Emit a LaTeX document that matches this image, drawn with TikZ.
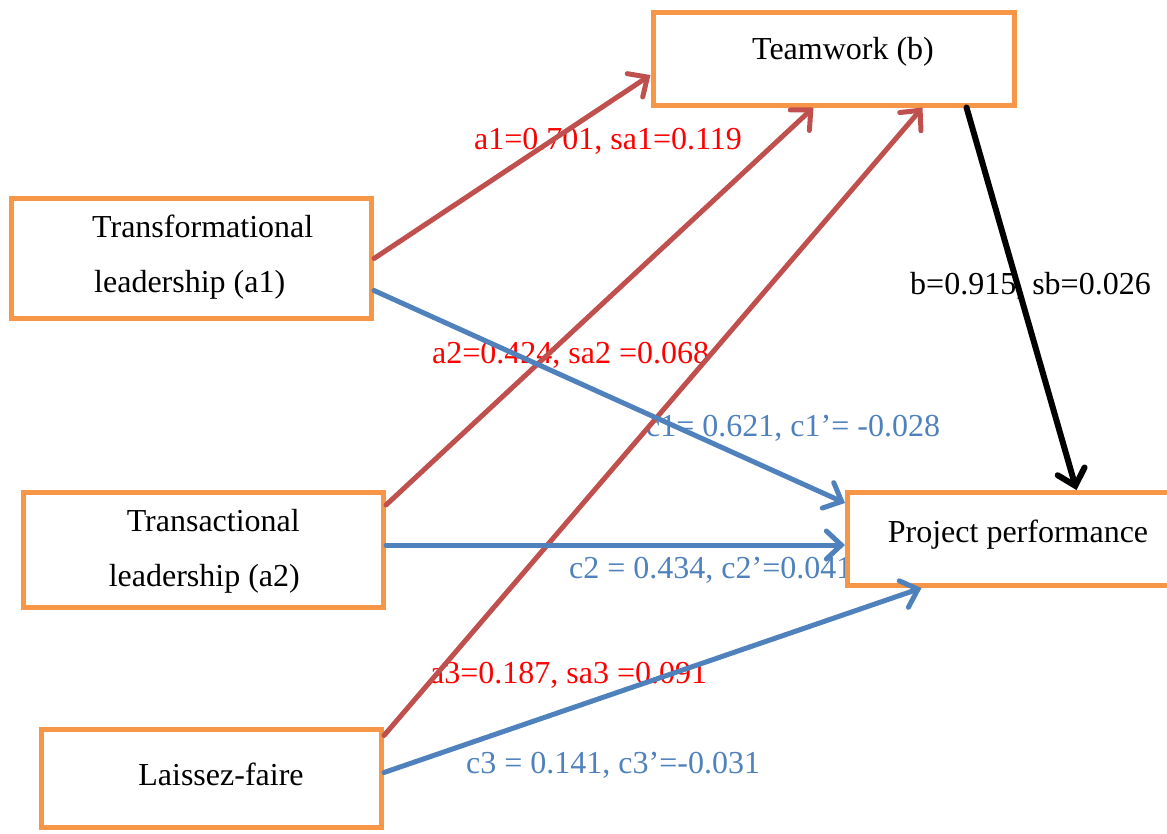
\documentclass[tikz,border=0pt]{standalone}
\usepackage{fontspec}
\setmainfont{Liberation Serif}
\usetikzlibrary{arrows.meta}
\definecolor{boxorange}{HTML}{F79646}
\definecolor{pathred}{HTML}{C0504D}
\definecolor{pathblue}{HTML}{4F81BD}
\definecolor{labred}{HTML}{FF0000}
\begin{document}
\begin{tikzpicture}[x=1pt,y=-1pt,
  box/.style={draw=boxorange, line width=5pt, fill=white, rectangle, inner sep=0pt},
  boxtext/.style={font=\fontsize{32pt}{55pt}\selectfont, inner sep=0pt},
  coef/.style={font=\fontsize{32pt}{38pt}\selectfont, inner sep=0pt,
               text height=21pt, text depth=0pt, anchor=west},
  redlab/.style={coef, text=labred},
  bluelab/.style={coef, text=pathblue},
  blacklab/.style={coef, text=black},
  link/.style={line width=5pt, line cap=round,
               -{Straight Barb[length=15pt,width=28pt,line cap=round]}},
  redlink/.style={link, draw=pathred},
  bluelink/.style={link, draw=pathblue},
  blacklink/.style={link, line width=6pt, draw=black}
]
\clip (0,0) rectangle (1167,833);
\useasboundingbox (0,0) rectangle (1167,833);

% coefficient labels (drawn first so boxes and paths lie on top)
\node[redlab]   (la1) at (474,139) {a1=0.701, sa1=0.119};
\node[redlab]   (la2) at (432,353) {a2=0.424, sa2 =0.068};
\node[bluelab]  (lc1) at (646,426) {c1= 0.621, c1’= -0.028};
\node[bluelab]  (lc2) at (569,568) {c2 = 0.434, c2’=0.041};
\node[redlab]   (la3) at (430,673) {a3=0.187, sa3 =0.091};
\node[bluelab]  (lc3) at (466,763) {c3 = 0.141, c3’=-0.031};
\node[blacklab] (lb)  at (910,284) {b=0.915, sb=0.026};

% boxes
\node[box, minimum width=361pt, minimum height=93pt]  (tw) at (833.5,58.5) {};
\node[box, minimum width=360pt, minimum height=120pt] (tf) at (191.5,258.5) {};
\node[box, minimum width=360pt, minimum height=115pt] (tr) at (203.5,550) {};
\node[box, minimum width=340pt, minimum height=98pt]  (lf) at (211.5,778.5) {};
\node[box, minimum width=330pt, minimum height=93pt]  (pp) at (1012.5,539) {};

% box texts
\node[boxtext] (twt) at (843,52) {Teamwork (b)};
\node[boxtext, align=left, anchor=west] (tft) at (92,257) {Transformational\\\hspace*{2pt}leadership (a1)};
\node[boxtext, align=right, anchor=east] (trt) at (300,551) {Transactional\\leadership (a2)};
\node[boxtext] (lft) at (221,774) {Laissez-faire};
\node[boxtext] (ppt) at (1018,535) {Project performance};

% paths to teamwork
\draw[redlink] (tf.east) -- ([yshift=-16.5pt]tw.west);
\draw[redlink] ([yshift=45pt]tr.east) -- ([xshift=-20pt]tw.south);
\draw[redlink] ([yshift=43pt]lf.east) -- ([xshift=89pt]tw.south);
% teamwork to performance
\draw[blacklink] ([xshift=133pt]tw.south) -- ([xshift=64pt]pp.north);
% direct paths to performance
\draw[bluelink] ([yshift=-32pt]tf.east) -- ([yshift=36pt]pp.west);
\draw[bluelink] ([yshift=5pt]tr.east) -- ([yshift=-6pt]pp.west);
\draw[bluelink] ([yshift=6pt]lf.east) -- ([xshift=-91pt]pp.south);
\end{tikzpicture}
\end{document}
